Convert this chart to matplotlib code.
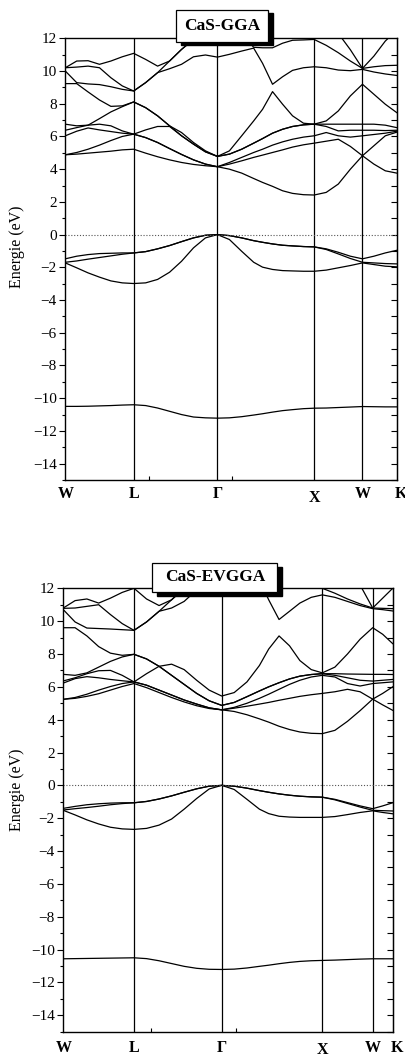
import numpy as np
import matplotlib
matplotlib.use("Agg")
import matplotlib.pyplot as plt
from matplotlib.patches import Rectangle
from matplotlib.transforms import blended_transform_factory

# ---------------- k-path ----------------
kpt_labels = ["W", "L", "Γ", "X", "W", "K"]
gga_kpts = [0.0, 0.707, 1.573, 2.573, 3.073, 3.427]
evgga_kpts = [0.0, 0.703, 1.575, 2.575, 3.076, 3.275]

# sample fractions along each segment
frac_WL = [0, 1/6, 2/6, 3/6, 4/6, 5/6, 1]
frac_LG = [0, 1/7, 2/7, 3/7, 4/7, 5/7, 6/7, 1]
frac_GX = [0, .124, .251, .375, .467, .57, .674, .777, .89, 1]
frac_XW = [0, .25, .5, .75, 1]
frac_WK_gga = [0, 1/3, 2/3, 1]
frac_WK_evgga = [0, .5, 1]

# ---------------- CaS-GGA bands (rows: s, p1, p2, p3, c1..c9) ----------------
gga_WL = [
    [-10.50, -10.50, -10.49, -10.47, -10.45, -10.42, -10.40],
    [-1.73, -2.03, -2.34, -2.60, -2.83, -2.95, -2.99],
    [-1.69, -1.61, -1.50, -1.40, -1.30, -1.20, -1.12],
    [-1.48, -1.32, -1.22, -1.16, -1.14, -1.12, -1.12],
    [4.88, 4.92, 4.98, 5.04, 5.10, 5.18, 5.22],
    [4.88, 5.02, 5.22, 5.47, 5.75, 6.00, 6.14],
    [6.04, 6.32, 6.52, 6.40, 6.30, 6.20, 6.14],
    [6.38, 6.54, 6.69, 6.75, 6.65, 6.34, 6.14],
    [6.75, 6.65, 6.69, 7.09, 7.50, 7.82, 8.11],
    [9.23, 9.23, 8.72, 8.23, 7.84, 7.87, 8.11],
    [10.00, 9.29, 9.21, 9.17, 9.04, 8.88, 8.78],
    [10.20, 10.24, 10.30, 10.20, 9.59, 9.09, 8.78],
    [10.20, 10.61, 10.63, 10.41, 10.61, 10.87, 11.08],
]
gga_LG = [
    [-10.40, -10.45, -10.60, -10.80, -11.00, -11.15, -11.20, -11.22],
    [-2.99, -2.95, -2.74, -2.30, -1.63, -0.81, -0.20, 0.00],
    [-1.12, -1.04, -0.87, -0.67, -0.43, -0.20, -0.04, 0.00],
    [-1.12, -1.04, -0.87, -0.67, -0.43, -0.20, -0.04, 0.00],
    [5.22, 4.98, 4.76, 4.57, 4.41, 4.29, 4.21, 4.15],
    [6.14, 5.93, 5.63, 5.26, 4.90, 4.57, 4.31, 4.15],
    [6.14, 5.93, 5.63, 5.26, 4.90, 4.57, 4.31, 4.15],
    [6.14, 6.40, 6.61, 6.61, 6.04, 5.53, 5.06, 4.78],
    [8.11, 7.76, 7.26, 6.65, 6.04, 5.53, 5.06, 4.78],
    [8.11, 7.76, 7.26, 6.65, 6.24, 5.63, 5.12, 4.78],
    [8.78, 9.29, 9.90, 10.14, 10.41, 10.87, 10.98, 10.85],
    [8.78, 9.29, 9.90, 10.61, 11.32, 11.93, 12.60, 13.30],
    [11.08, 10.71, 10.30, 10.61, 11.32, 11.93, 12.60, 13.30],
]
gga_GX = [
    [-11.22, -11.20, -11.13, -11.03, -10.95, -10.85, -10.76, -10.70, -10.64, -10.61],
    [0.00, -0.30, -1.02, -1.69, -1.99, -2.13, -2.20, -2.22, -2.24, -2.24],
    [0.00, -0.06, -0.20, -0.37, -0.47, -0.57, -0.65, -0.69, -0.73, -0.75],
    [0.00, -0.06, -0.20, -0.37, -0.47, -0.57, -0.65, -0.69, -0.73, -0.75],
    [4.15, 4.00, 3.76, 3.43, 3.19, 2.95, 2.68, 2.52, 2.44, 2.42],
    [4.15, 4.31, 4.51, 4.72, 4.86, 5.02, 5.18, 5.35, 5.49, 5.59],
    [4.15, 4.41, 4.72, 5.02, 5.22, 5.47, 5.67, 5.83, 5.96, 6.04],
    [4.78, 4.92, 5.22, 5.59, 5.87, 6.20, 6.44, 6.61, 6.71, 6.75],
    [4.78, 4.92, 5.22, 5.59, 5.87, 6.20, 6.44, 6.61, 6.71, 6.75],
    [4.78, 5.12, 6.04, 6.95, 7.66, 8.74, 7.97, 7.26, 6.81, 6.75],
    [10.85, 11.02, 11.22, 11.40, 10.47, 9.19, 9.65, 10.04, 10.20, 10.26],
    [13.30, 12.90, 12.30, 11.45, 11.42, 11.42, 11.70, 11.88, 11.90, 11.93],
    [13.30, 13.40, 13.40, 13.40, 13.30, 13.20, 13.10, 13.00, 12.90, 12.80],
]
gga_XW = [
    [-10.61, -10.60, -10.57, -10.54, -10.51],
    [-2.24, -2.17, -2.03, -1.89, -1.73],
    [-0.75, -0.91, -1.18, -1.46, -1.69],
    [-0.75, -0.87, -1.08, -1.32, -1.48],
    [2.42, 2.58, 3.09, 4.00, 4.82],
    [5.59, 5.71, 5.83, 5.39, 4.82],
    [6.04, 6.24, 6.04, 5.96, 6.04],
    [6.75, 6.61, 6.34, 6.38, 6.38],
    [6.75, 6.75, 6.75, 6.75, 6.75],
    [6.75, 6.95, 7.56, 8.48, 9.19],
    [10.26, 10.20, 10.06, 10.02, 10.10],
    [11.93, 11.57, 11.12, 10.61, 10.16],
    [12.80, 12.80, 12.30, 11.30, 10.16],
]
gga_WK = [
    [-10.51, -10.52, -10.53, -10.53],
    [-1.73, -1.83, -1.93, -1.97],
    [-1.69, -1.73, -1.77, -1.79],
    [-1.48, -1.32, -1.12, -0.96],
    [4.82, 4.31, 3.90, 3.76],
    [4.82, 5.43, 6.04, 6.26],
    [6.04, 6.12, 6.20, 6.32],
    [6.38, 6.38, 6.36, 6.38],
    [6.75, 6.75, 6.69, 6.54],
    [9.19, 8.58, 7.97, 7.46],
    [10.10, 9.94, 9.82, 9.73],
    [10.16, 10.26, 10.33, 10.35],
    [10.16, 10.91, 11.83, 12.50],
]

# ---------------- CaS-EVGGA bands ----------------
evgga_WL = [
    [-10.56, -10.55, -10.54, -10.53, -10.52, -10.51, -10.50],
    [-1.52, -1.80, -2.10, -2.35, -2.55, -2.65, -2.68],
    [-1.50, -1.42, -1.35, -1.27, -1.18, -1.11, -1.06],
    [-1.40, -1.28, -1.18, -1.12, -1.08, -1.06, -1.06],
    [5.24, 5.30, 5.42, 5.58, 5.80, 6.02, 6.20],
    [5.24, 5.35, 5.55, 5.80, 6.02, 6.20, 6.30],
    [6.23, 6.50, 6.62, 6.55, 6.45, 6.37, 6.30],
    [6.36, 6.55, 6.80, 6.98, 7.00, 6.70, 6.30],
    [6.76, 6.70, 6.85, 7.20, 7.55, 7.82, 7.98],
    [9.60, 9.60, 9.10, 8.45, 8.05, 7.92, 7.98],
    [10.70, 9.95, 9.58, 9.55, 9.52, 9.48, 9.44],
    [10.78, 10.80, 10.90, 11.00, 10.40, 9.85, 9.44],
    [10.80, 11.25, 11.35, 11.10, 11.40, 11.75, 12.00],
]
evgga_LG = [
    [-10.50, -10.55, -10.68, -10.85, -11.02, -11.14, -11.20, -11.21],
    [-2.68, -2.62, -2.42, -2.05, -1.45, -0.80, -0.22, 0.00],
    [-1.06, -0.98, -0.83, -0.64, -0.42, -0.21, -0.05, 0.00],
    [-1.06, -0.98, -0.83, -0.64, -0.42, -0.21, -0.05, 0.00],
    [6.20, 5.95, 5.65, 5.35, 5.08, 4.85, 4.68, 4.60],
    [6.30, 6.10, 5.80, 5.50, 5.20, 4.95, 4.72, 4.60],
    [6.30, 6.10, 5.80, 5.50, 5.20, 4.95, 4.72, 4.60],
    [6.30, 6.80, 7.25, 6.70, 6.15, 5.60, 5.15, 4.87],
    [7.98, 7.70, 7.25, 6.70, 6.15, 5.60, 5.15, 4.87],
    [7.98, 7.70, 7.25, 7.38, 7.05, 6.40, 5.80, 5.44],
    [9.44, 9.95, 10.60, 10.80, 11.20, 11.90, 12.20, 12.40],
    [9.44, 9.95, 10.60, 11.30, 12.00, 12.70, 13.30, 13.80],
    [12.00, 11.35, 10.95, 11.30, 12.00, 12.70, 13.30, 13.80],
]
evgga_GX = [
    [-11.21, -11.19, -11.12, -11.02, -10.95, -10.86, -10.78, -10.72, -10.68, -10.66],
    [0.00, -0.25, -0.85, -1.45, -1.72, -1.88, -1.93, -1.95, -1.95, -1.95],
    [0.00, -0.05, -0.17, -0.32, -0.42, -0.52, -0.60, -0.66, -0.70, -0.72],
    [0.00, -0.05, -0.17, -0.32, -0.42, -0.52, -0.60, -0.66, -0.70, -0.72],
    [4.60, 4.50, 4.30, 4.05, 3.85, 3.60, 3.40, 3.25, 3.17, 3.15],
    [4.60, 4.70, 4.82, 4.95, 5.05, 5.18, 5.30, 5.42, 5.52, 5.60],
    [4.60, 4.75, 5.00, 5.30, 5.55, 5.85, 6.15, 6.40, 6.60, 6.70],
    [4.87, 5.05, 5.40, 5.75, 6.00, 6.25, 6.48, 6.65, 6.75, 6.80],
    [4.87, 5.05, 5.40, 5.75, 6.00, 6.25, 6.48, 6.65, 6.75, 6.80],
    [5.44, 5.65, 6.30, 7.30, 8.30, 9.10, 8.50, 7.60, 7.05, 6.85],
    [12.40, 12.50, 12.60, 12.50, 11.30, 10.10, 10.60, 11.10, 11.45, 11.60],
    [13.80, 13.50, 13.20, 12.90, 12.70, 12.50, 12.30, 12.15, 12.05, 12.00],
    [13.80, 13.90, 13.90, 13.80, 13.70, 13.60, 13.50, 13.40, 13.30, 13.20],
]
evgga_XW = [
    [-10.66, -10.64, -10.61, -10.58, -10.56],
    [-1.95, -1.90, -1.78, -1.65, -1.55],
    [-0.72, -0.88, -1.10, -1.32, -1.52],
    [-0.72, -0.85, -1.05, -1.25, -1.42],
    [3.15, 3.35, 3.90, 4.55, 5.25],
    [5.60, 5.70, 5.85, 5.70, 5.25],
    [6.70, 6.60, 6.20, 6.05, 6.20],
    [6.80, 6.70, 6.55, 6.40, 6.35],
    [6.80, 6.80, 6.78, 6.77, 6.76],
    [6.85, 7.20, 8.00, 8.90, 9.60],
    [11.60, 11.45, 11.20, 10.95, 10.76],
    [12.00, 11.70, 11.35, 11.05, 10.80],
    [13.20, 13.00, 12.70, 12.20, 10.80],
]
evgga_WK = [
    [-10.56, -10.56, -10.56],
    [-1.55, -1.65, -1.73],
    [-1.52, -1.54, -1.56],
    [-1.42, -1.25, -1.06],
    [5.25, 4.90, 4.57],
    [5.25, 5.60, 6.00],
    [6.20, 6.25, 6.30],
    [6.35, 6.40, 6.45],
    [6.76, 6.76, 6.75],
    [9.60, 9.20, 8.63],
    [10.76, 10.70, 10.62],
    [10.80, 10.78, 10.76],
    [10.80, 11.40, 12.00],
]

W_PX, H_PX = 406, 1057
plt.rcParams['font.family'] = ['Liberation Serif', 'DejaVu Serif']
fig = plt.figure(figsize=(W_PX / 100, H_PX / 100), dpi=100)


def build(kpts, segs, fracs):
    ks, es = [], []
    for i, (seg, fr) in enumerate(zip(segs, fracs)):
        k0, k1 = kpts[i], kpts[i + 1]
        kk = np.array([k0 + f * (k1 - k0) for f in fr])
        ee = np.array(seg, dtype=float)
        if i > 0:
            kk = kk[1:]
            ee = ee[:, 1:]
        ks.append(kk)
        es.append(ee)
    return np.concatenate(ks), np.concatenate(es, axis=1)


def px_rect(x0, y0, x1, y1):
    return (x0 / W_PX, 1 - y1 / H_PX, (x1 - x0) / W_PX, (y1 - y0) / H_PX)


def panel(rect_px, kpts, segs, fracs, title, box_px, shadow, label_y_px, xlab_off):
    x0, y0, x1, y1 = rect_px
    ax = fig.add_axes([x0 / W_PX, 1 - y1 / H_PX, (x1 - x0) / W_PX, (y1 - y0) / H_PX])
    k, E = build(kpts, segs, fracs)
    for row in E:
        ax.plot(k, row, color='black', lw=0.9, solid_joinstyle='round')
    for kv in kpts[1:-1]:
        ax.axvline(kv, color='black', lw=0.9)
    ax.axhline(0, color='#555555', lw=0.8, ls=(0, (1, 1.6)))
    ax.set_xlim(kpts[0], kpts[-1])
    ax.set_ylim(-15, 12)
    ax.set_yticks(np.arange(-14, 13, 2))
    ax.set_yticks(np.arange(-15, 12, 1), minor=True)
    ax.tick_params(axis='y', which='major', direction='out', length=4, width=0.8,
                   labelsize=11, pad=2)
    ax.tick_params(axis='y', which='minor', direction='out', length=2, width=0.8)
    ax.set_xticks([0.87, 1.72])
    ax.set_xticklabels([])
    ax.tick_params(axis='x', direction='in', length=3, width=0.8)
    for sp in ax.spines.values():
        sp.set_linewidth(1.0)
    sec = ax.secondary_yaxis('right')
    sec.set_yticks(np.arange(-15, 12, 1))
    sec.tick_params(direction='in', length=4, width=0.8, labelright=False)
    trans = blended_transform_factory(ax.transData, ax.transAxes)
    for i, (kv, lab) in enumerate(zip(kpts, kpt_labels)):
        dy = xlab_off[1] if lab == "X" else xlab_off[0]
        dx = 0.0
        if i == len(kpts) - 1:
            dx = 0.04
        ax.text(kv + dx, dy, lab, transform=trans, ha='center', va='center',
                fontsize=11.5, fontweight='bold')
    # y label
    fig.text(17 / W_PX, 1 - label_y_px / H_PX, "Energie (eV)", rotation=90,
             ha='center', va='center', fontsize=11.5)
    # title box with shadow
    bx0, by0, bx1, by1 = box_px
    sdx, sdy = shadow
    fig.add_artist(Rectangle(px_rect(bx0 + sdx, by0 + sdy, bx1 + sdx, by1 + sdy)[:2],
                             (bx1 - bx0) / W_PX, (by1 - by0) / H_PX,
                             transform=fig.transFigure, facecolor='black',
                             edgecolor='black', zorder=10))
    r = px_rect(bx0, by0, bx1, by1)
    fig.add_artist(Rectangle(r[:2], r[2], r[3], transform=fig.transFigure,
                             facecolor='white', edgecolor='black', lw=0.9, zorder=11))
    fig.text((bx0 + bx1) / 2 / W_PX, 1 - (by0 + by1) / 2 / H_PX, title,
             ha='center', va='center', fontsize=12.5, fontweight='bold', zorder=12)
    return ax


panel((65.3, 38.3, 396.7, 480.0), gga_kpts,
      [gga_WL, gga_LG, gga_GX, gga_XW, gga_WK],
      [frac_WL, frac_LG, frac_GX, frac_XW, frac_WK_gga],
      "CaS-GGA", (175.7, 10.0, 267.7, 41.7), (5, 3), 247, (-0.032, -0.04))
panel((63.3, 588.3, 392.7, 1031.7), evgga_kpts,
      [evgga_WL, evgga_LG, evgga_GX, evgga_XW, evgga_WK],
      [frac_WL, frac_LG, frac_GX, frac_XW, frac_WK_evgga],
      "CaS-EVGGA", (152.3, 562.7, 277.3, 591.7), (5, 4), 790, (-0.036, -0.042))

fig.savefig("out.png", dpi=100)
